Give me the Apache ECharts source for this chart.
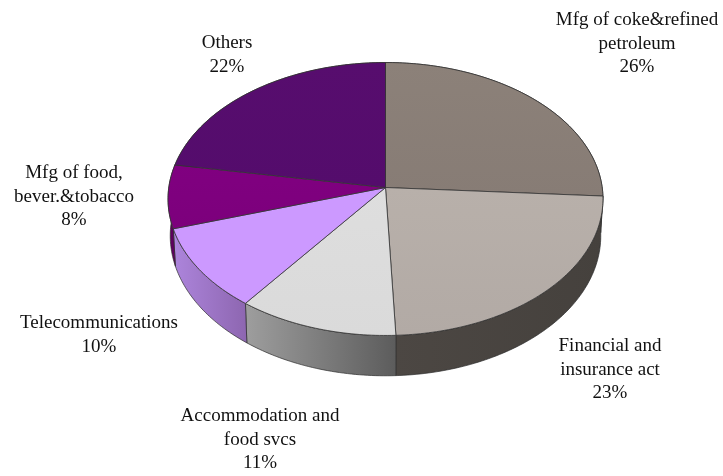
<!DOCTYPE html>
<html>
<head>
<meta charset="utf-8">
<style>
  html, body { margin: 0; padding: 0; background: #fff; }
  #main { width: 723px; height: 476px; }
</style>
<script src="https://cdn.jsdelivr.net/npm/echarts@6/dist/echarts.min.js"></script>
</head>
<body>
<div id="main"></div>
<script>
// clockwise from 12 o'clock
const categories = [
  'Mfg of coke&refined\npetroleum',
  'Financial and\ninsurance act',
  'Accommodation and\nfood svcs',
  'Telecommunications',
  'Mfg of food,\nbever.&tobacco',
  'Others'
];
const shares = [26.0, 23.3, 11.0, 9.9, 7.5, 22.3];

const topColors = [
  ['#8c8179', '#877c75'],
  ['#b8b0aa', '#b2aaa5'],
  ['#dedede', '#dadada'],
  ['#cc99ff', '#cc99ff'],
  ['#800080', '#7c007c'],
  ['#570d6e', '#540c6c']
];
const sideColors = [
  ['#4a4540', '#4a4540'],
  ['#4c4743', '#45413d'],
  ['#9e9e9e', '#5c5c5c'],
  ['#ad85dc', '#8d66b0'],
  ['#5e005e', '#5e005e'],
  ['#3d0950', '#3d0950']
];
// centre of each label block
const labelPos = [[637, 44], [610, 370], [260, 440], [99, 335], [74, 197], [227, 55]];

// perspective disc: rim of the top face and of the bottom face
const topFace = { x: 385.5, y: 187.5, a: 216.7, b: 135.5 };
const bottomFace = { x: 385.5, y: 224, a: 214.5, b: 139 };
const tilt = -0.0842;

const total = shares.reduce((s, v) => s + v, 0);
const starts = [];
shares.reduce((s, v, i) => { starts[i] = s; return s + v; }, 0);

function rimPoint(face, deg) {
  const r = deg * Math.PI / 180;
  const u = Math.sin(r), v = -Math.cos(r);
  const w = 1 + tilt * v;
  return [face.x + face.a * u / w, face.y + face.b * v / w];
}

function rim(face, from, to) {
  const pts = [];
  const n = Math.max(2, Math.ceil(to - from));
  for (let i = 0; i <= n; i++) pts.push(rimPoint(face, from + (to - from) * i / n));
  return pts;
}

function grad(c, x2, y2) {
  return new echarts.graphic.LinearGradient(0, 0, x2, y2, [
    { offset: 0, color: c[0] }, { offset: 1, color: c[1] }
  ]);
}

const chart = echarts.init(document.getElementById('main'), null, { renderer: 'canvas' });
chart.setOption({
  animation: false,
  series: [{
    type: 'custom',
    coordinateSystem: 'none',
    data: shares.map((v, i) => ({ name: categories[i], value: [v] })),
    renderItem: function (params, api) {
      const i = params.dataIndex;
      const from = starts[i] / total * 360;
      const to = from + api.value(0) / total * 360;
      const topArc = rim(topFace, from, to);
      const bottomArc = rim(bottomFace, from, to);
      return {
        type: 'group',
        children: [{
          type: 'polygon',
          z2: 1,
          shape: { points: topArc.concat(bottomArc.reverse()) },
          style: { fill: grad(sideColors[i], 1, 0), stroke: '#2c2c2c', lineWidth: 0.7 }
        }, {
          type: 'polygon',
          z2: 5,
          shape: { points: [[topFace.x, topFace.y]].concat(topArc) },
          style: { fill: grad(topColors[i], 0, 1), stroke: '#333333', lineWidth: 0.8 }
        }, {
          type: 'text',
          z2: 10,
          style: {
            text: categories[i] + '\n' + Math.round(api.value(0)) + '%',
            x: labelPos[i][0],
            y: labelPos[i][1],
            align: 'center',
            verticalAlign: 'middle',
            fontFamily: '"Liberation Serif"',
            fontSize: 19,
            lineHeight: 23.5,
            fill: '#111111'
          }
        }]
      };
    }
  }]
});
</script>
</body>
</html>
